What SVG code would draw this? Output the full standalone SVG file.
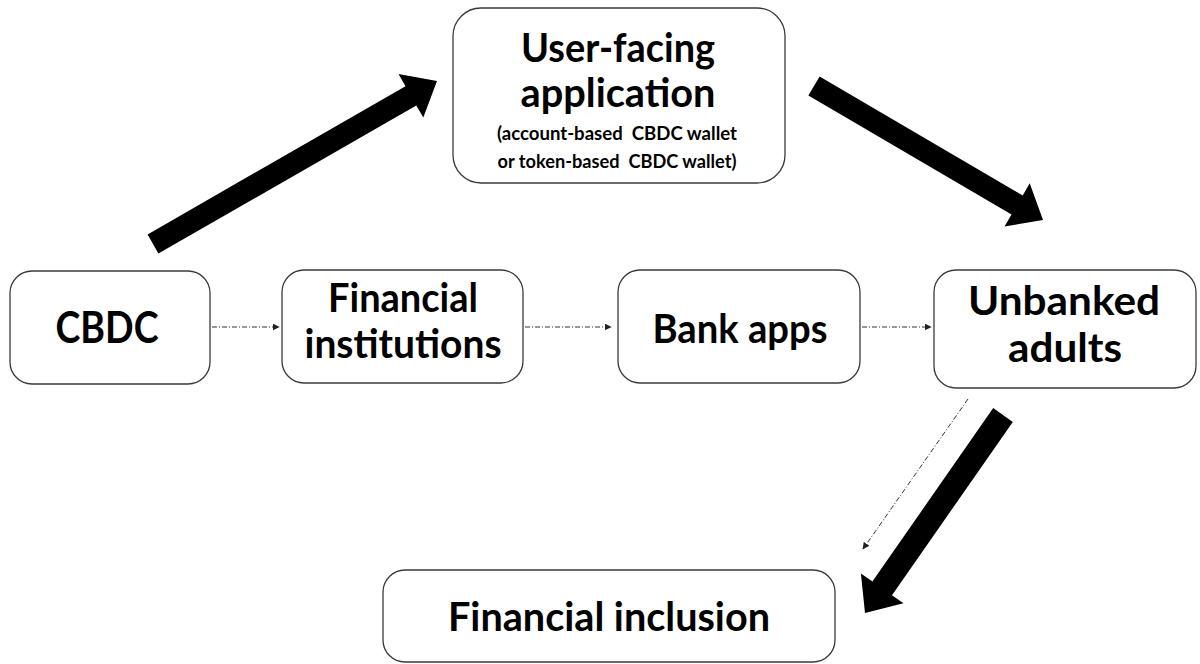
<svg xmlns="http://www.w3.org/2000/svg" width="1200" height="664" viewBox="0 0 1200 664">
  <defs>
    <marker id="tip" viewBox="0 0 10 10" refX="9" refY="5" markerWidth="7" markerHeight="7" markerUnits="userSpaceOnUse" orient="auto">
      <path d="M0,0 L10,5 L0,10 Z" fill="#222"/>
    </marker>
    <style>
      .box { fill: #fff; stroke: #3a3a3a; stroke-width: 1.3; }
      .big { font-family: Lato, "Liberation Sans", sans-serif; font-weight: 700; font-size: 41px; fill: #000; text-anchor: middle; }
      .small { font-family: Lato, "Liberation Sans", sans-serif; font-weight: 700; font-size: 18px; fill: #000; text-anchor: middle; white-space: pre; }
      .flow { fill: none; stroke: #333; stroke-width: 1; stroke-dasharray: 5 2 1 2; marker-end: url(#tip); }
      .thick { fill: #000; }
    </style>
  </defs>
  <rect width="1200" height="664" fill="#fff"/>

  <!-- connectors: dash-dot flows and the three heavy block arrows -->
  <g id="connectors">
    <line class="flow" x1="212" y1="327" x2="279" y2="327"/>
    <line class="flow" x1="525" y1="327" x2="611" y2="327"/>
    <line class="flow" x1="862" y1="327" x2="931" y2="327"/>
    <line class="flow" x1="968" y1="399" x2="863" y2="549"/>
    <polygon class="thick" points="147.6,234.4 405.5,86.2 398.5,74 437,81 423.3,117.6 416.3,105.4 158.4,253.6"/>
    <polygon class="thick" points="819.6,76.5 1022.7,195.4 1029.7,183.3 1043,220 1004.5,226.5 1011.5,214.4 808.4,95.5"/>
    <polygon class="thick" points="993.2,408.1 872.4,581.5 860.9,573.5 865,613 903.5,603.3 892,595.3 1012.8,421.9"/>
  </g>

  <g id="user-app">
    <rect class="box" x="453" y="8" width="332" height="175" rx="28"/>
    <text class="big" x="618" y="62" textLength="194" lengthAdjust="spacingAndGlyphs">User-facing</text>
    <text class="big" x="618" y="107" textLength="195" lengthAdjust="spacingAndGlyphs">application</text>
    <text class="small" x="617" y="140" textLength="240" lengthAdjust="spacingAndGlyphs">(account-based  CBDC wallet</text>
    <text class="small" x="617" y="168" textLength="239" lengthAdjust="spacingAndGlyphs">or token-based  CBDC wallet)</text>
  </g>

  <g id="cbdc">
    <rect class="box" x="10" y="271" width="200" height="113" rx="22"/>
    <text class="big" x="107" y="343" style="font-size:44px" textLength="103" lengthAdjust="spacingAndGlyphs">CBDC</text>
  </g>

  <g id="financial-institutions">
    <rect class="box" x="282" y="270" width="241" height="113" rx="22"/>
    <text class="big" x="403" y="312" textLength="150" lengthAdjust="spacingAndGlyphs">Financial</text>
    <text class="big" x="403" y="358" textLength="197" lengthAdjust="spacingAndGlyphs">institutions</text>
  </g>

  <g id="bank-apps">
    <rect class="box" x="618" y="270" width="242" height="113" rx="22"/>
    <text class="big" x="740" y="343" textLength="175" lengthAdjust="spacingAndGlyphs">Bank apps</text>
  </g>

  <g id="unbanked">
    <rect class="box" x="934" y="270" width="262" height="118" rx="22"/>
    <text class="big" x="1064" y="315" textLength="192" lengthAdjust="spacingAndGlyphs">Unbanked</text>
    <text class="big" x="1065" y="362" textLength="114" lengthAdjust="spacingAndGlyphs">adults</text>
  </g>

  <g id="inclusion">
    <rect class="box" x="383" y="570" width="452" height="92" rx="22"/>
    <text class="big" x="609" y="631" textLength="322" lengthAdjust="spacingAndGlyphs">Financial inclusion</text>
  </g>
</svg>
